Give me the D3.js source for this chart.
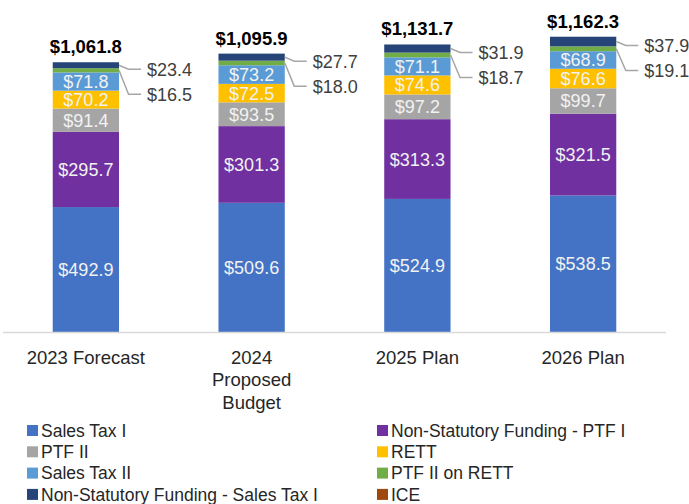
<!DOCTYPE html>
<html>
<head>
<meta charset="utf-8">
<script src="https://cdn.jsdelivr.net/npm/d3@7"></script>
<style>
  html, body { margin: 0; padding: 0; background: #ffffff; }
  svg { display: block; font-family: "Liberation Sans", Arial, sans-serif; }
</style>
</head>
<body>
<div id="chart"></div>
<script>
// ---- data ----
const categories = ["2023 Forecast", "2024 Proposed Budget", "2025 Plan", "2026 Plan"];
const categoryLines = [["2023 Forecast"], ["2024", "Proposed", "Budget"], ["2025 Plan"], ["2026 Plan"]];
const seriesNames = ["Sales Tax I", "Non-Statutory Funding - PTF I", "PTF II", "RETT",
                     "Sales Tax II", "PTF II on RETT", "Non-Statutory Funding - Sales Tax I", "ICE"];
const seriesColors = ["#4472C4", "#7030A0", "#A5A5A5", "#FFC000", "#5B9BD5", "#70AD47", "#264478", "#9E480E"];
const salesTaxI    = [492.9, 509.6, 524.9, 538.5];
const nsfPtfI      = [295.7, 301.3, 313.3, 321.5];
const ptfII        = [91.4, 93.5, 97.2, 99.7];
const rett         = [70.2, 72.5, 74.6, 76.6];
const salesTaxII   = [71.8, 73.2, 71.1, 68.9];
const ptfIIonRett  = [16.5, 18.0, 18.7, 19.1];
const nsfSalesTaxI = [23.4, 27.7, 31.9, 37.9];
const ice          = [0, 0, 0, 0];
const totals       = ["$1,061.8", "$1,095.9", "$1,131.7", "$1,162.3"];
const yMax = 1300;

const seriesValues = [salesTaxI, nsfPtfI, ptfII, rett, salesTaxII, ptfIIonRett, nsfSalesTaxI, ice];

// ---- layout ----
const W = 689, H = 504;
const plotLeft = 3, plotRight = 666, baseY = 332.5, topY = 1.65;

const svg = d3.select("#chart").append("svg").attr("width", W).attr("height", H);

const x = d3.scaleBand().domain(categories).range([plotLeft, plotRight]).paddingInner(0.6).paddingOuter(0.3);
const y = d3.scaleLinear().domain([0, yMax]).range([baseY, topY]);

const table = categories.map((c, i) => {
  const row = { cat: c };
  seriesNames.forEach((s, k) => row[s] = seriesValues[k][i]);
  return row;
});
const stacked = d3.stack().keys(seriesNames)(table);

const fmt = v => "$" + d3.format(",.1f")(v);

// bars
const groups = svg.append("g").selectAll("g").data(stacked).join("g")
  .attr("fill", (d, k) => seriesColors[k]);
groups.selectAll("rect").data(d => d.map(p => ({ p, cat: p.data.cat }))).join("rect")
  .attr("x", d => x(d.cat))
  .attr("width", x.bandwidth())
  .attr("y", d => y(d.p[1]))
  .attr("height", d => Math.max(0, y(d.p[0]) - y(d.p[1])));

// axis line
svg.append("line")
  .attr("x1", plotLeft).attr("x2", plotRight)
  .attr("y1", baseY).attr("y2", baseY)
  .attr("stroke", "#d9d9d9").attr("stroke-width", 1.5);

// inside labels for the first 5 series
const insideCount = 5;
stacked.slice(0, insideCount).forEach((layer) => {
  svg.append("g").selectAll("text").data(layer).join("text")
    .attr("x", d => x(d.data.cat) + x.bandwidth() / 2)
    .attr("y", d => (y(d[0]) + y(d[1])) / 2)
    .attr("dy", "0.36em")
    .attr("text-anchor", "middle")
    .attr("font-size", 18)
    .attr("fill", "#f2f2f2")
    .text(d => fmt(d[1] - d[0]));
});

// callout labels for small series (Non-Statutory Sales Tax I and PTF II on RETT)
const navyLayer = stacked[6], greenLayer = stacked[5];
categories.forEach((c, i) => {
  const right = x(c) + x.bandwidth();
  const navyMid = (y(navyLayer[i][0]) + y(navyLayer[i][1])) / 2;
  const greenMid = (y(greenLayer[i][0]) + y(greenLayer[i][1])) / 2;
  const l1 = navyMid + 4;
  const l2 = l1 + 25;
  const lx = right + 28;
  const lineEnd = lx - 6;
  const elbow = right + 9.5;
  const line = d3.line();
  svg.append("path")
    .attr("d", line([[right, navyMid], [elbow, l1], [lineEnd, l1]]))
    .attr("fill", "none").attr("stroke", "#a6a6a6").attr("stroke-width", 1.5);
  svg.append("path")
    .attr("d", line([[right, greenMid], [elbow, l2], [lineEnd, l2]]))
    .attr("fill", "none").attr("stroke", "#a6a6a6").attr("stroke-width", 1.5);
  svg.append("text").attr("x", lx).attr("y", l1).attr("dy", "0.36em")
    .attr("font-size", 18).attr("fill", "#404040").text(fmt(nsfSalesTaxI[i]));
  svg.append("text").attr("x", lx).attr("y", l2).attr("dy", "0.36em")
    .attr("font-size", 18).attr("fill", "#404040").text(fmt(ptfIIonRett[i]));
});

// totals
svg.append("g").selectAll("text").data(categories).join("text")
  .attr("x", c => x(c) + x.bandwidth() / 2)
  .attr("y", (c, i) => y(d3.sum(seriesValues, s => s[i])) - 9)
  .attr("text-anchor", "middle")
  .attr("font-size", 18.5).attr("font-weight", "bold").attr("fill", "#000000")
  .text((c, i) => totals[i]);

// category labels
categories.forEach((c, i) => {
  const t = svg.append("text")
    .attr("x", x(c) + x.bandwidth() / 2)
    .attr("y", 363)
    .attr("text-anchor", "middle")
    .attr("font-size", 18.5).attr("fill", "#262626");
  categoryLines[i].forEach((ln, j) => {
    t.append("tspan").attr("x", x(c) + x.bandwidth() / 2).attr("y", 363.5 + j * 22.5).text(ln);
  });
});

// legend
const legendCols = [27, 377];
const legendRow0 = 430.5, legendStep = 21.3;
seriesNames.forEach((s, k) => {
  const col = k % 2, row = Math.floor(k / 2);
  const gx = legendCols[col], gy = legendRow0 + row * legendStep;
  svg.append("rect").attr("x", gx).attr("y", gy - 5.5).attr("width", 11).attr("height", 11)
    .attr("fill", seriesColors[k]);
  svg.append("text").attr("x", gx + 14).attr("y", gy).attr("dy", "0.36em")
    .attr("font-size", 17.5).attr("fill", "#262626").text(s);
});
</script>
</body>
</html>
